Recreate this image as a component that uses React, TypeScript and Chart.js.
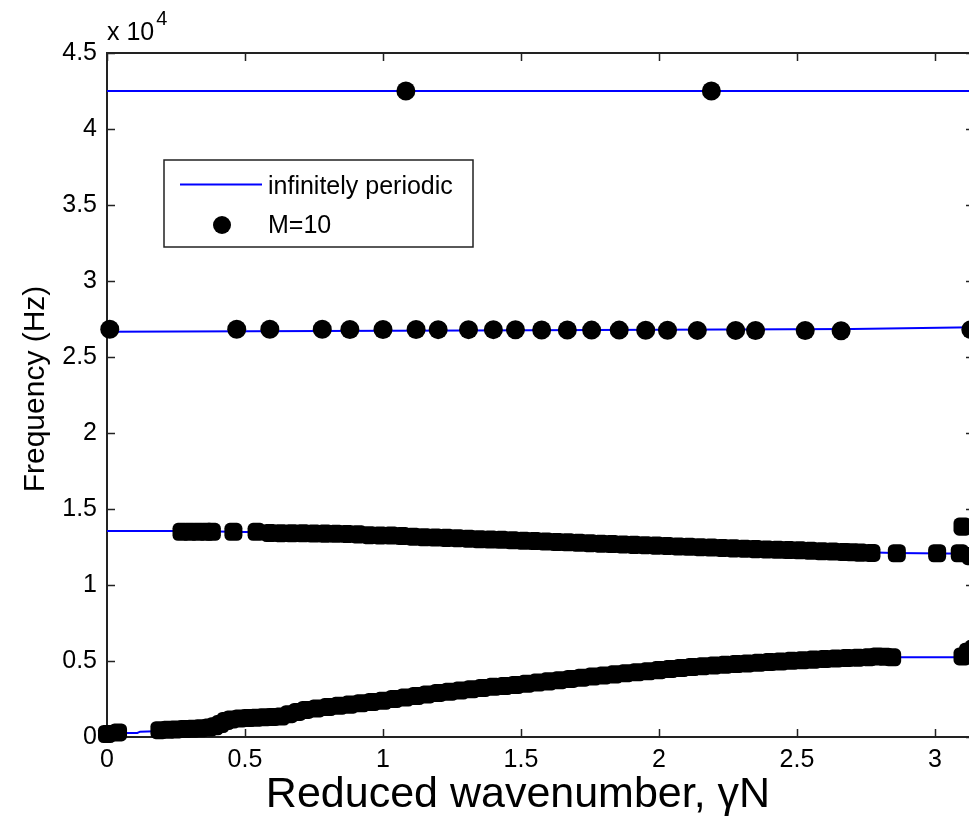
import React, { useEffect, useRef } from "react";
import { Chart, registerables } from "chart.js";

Chart.register(...registerables);

// ---------- axis ticks ----------
const xTicks = [0, 0.5, 1, 1.5, 2, 2.5, 3];
const yTicks = [0, 0.5, 1, 1.5, 2, 2.5, 3, 3.5, 4, 4.5];
const xMin = 0;
const xMax = 3.1416;
const yMin = 0;
const yMax = 4.5;

const xTitle = "Reduced wavenumber, \u03B3N";
const yTitle = "Frequency (Hz)";
const yExponentBase = "x 10";
const yExponent = "4";
const periodicLabel = "infinitely periodic";
const finiteLabel = "M=10";

// ---------- infinitely periodic branches (frequency in 10^4 Hz) ----------
const periodicBand1X = [0, 3.1416];
const periodicBand1Y = [4.25, 4.25];
const periodicBand2X = [0, 1.3, 2.7, 3.1416];
const periodicBand2Y = [2.666, 2.675, 2.685, 2.695];
const periodicBand3X = [0, 0.3, 0.6, 1.0, 1.5, 2.0, 2.5, 2.85, 3.1416];
const periodicBand3Y = [1.355, 1.355, 1.345, 1.325, 1.297, 1.262, 1.228, 1.21, 1.205];
const periodicBand4X = [0, 0.04, 0.11, 0.12, 0.2, 0.3, 0.4, 0.45, 0.6, 1.0, 1.5, 2.0, 2.5, 2.85, 3.1416];
const periodicBand4Y = [0, 0.026, 0.027, 0.035, 0.04, 0.05, 0.07, 0.11, 0.13, 0.238, 0.345, 0.44, 0.503, 0.524, 0.524];

// ---------- finite structure M=10 (frequency in 10^4 Hz) ----------
const finiteBand1X = [1.083, 2.19];
const finiteBand1Y = [4.25, 4.25];

const finiteBand2X = [0.01, 0.47, 0.59, 0.78, 0.88, 1.0, 1.12, 1.2, 1.31, 1.4, 1.48, 1.575, 1.668, 1.756, 1.856, 1.952, 2.031, 2.139, 2.278, 2.35, 2.53, 2.66, 3.13];
const finiteBand2Y = [2.682, 2.682, 2.682, 2.682, 2.681, 2.681, 2.681, 2.68, 2.68, 2.68, 2.679, 2.678, 2.678, 2.677, 2.677, 2.676, 2.676, 2.675, 2.675, 2.674, 2.674, 2.673, 2.68];

const finiteBand3X = [
  0.27, 0.3, 0.33, 0.36, 0.38, 0.458, 0.542,
  0.59, 0.63, 0.67, 0.71, 0.75, 0.79, 0.83, 0.87, 0.91, 0.95, 0.99, 1.03, 1.07, 1.11, 1.15, 1.19,
  1.23, 1.27, 1.31, 1.35, 1.39, 1.43, 1.47, 1.51, 1.55, 1.59, 1.63, 1.67, 1.71, 1.75, 1.79, 1.83,
  1.87, 1.91, 1.95, 1.99, 2.03, 2.07, 2.11, 2.15, 2.19, 2.23, 2.27, 2.31, 2.35, 2.39, 2.43, 2.47,
  2.51, 2.55, 2.59, 2.63, 2.67, 2.7, 2.73, 2.77,
  2.862, 3.008, 3.09, 3.1, 3.13,
];
const finiteBand3Y = [
  1.35, 1.35, 1.35, 1.35, 1.35, 1.35, 1.35,
  1.342, 1.341, 1.34, 1.34, 1.339, 1.338, 1.337, 1.336, 1.333, 1.328, 1.326, 1.325, 1.322, 1.318, 1.314, 1.312,
  1.31, 1.308, 1.305, 1.301, 1.299, 1.297, 1.294, 1.291, 1.289, 1.286, 1.283, 1.281, 1.278, 1.275, 1.272, 1.27,
  1.267, 1.264, 1.262, 1.259, 1.257, 1.254, 1.251, 1.249, 1.246, 1.244, 1.241, 1.239, 1.236, 1.234, 1.232, 1.23,
  1.228, 1.225, 1.222, 1.22, 1.217, 1.215, 1.213, 1.211,
  1.209, 1.209, 1.209, 1.384, 1.19,
];

const finiteBand4X = [
  0.0, 0.04, 0.19, 0.22, 0.25, 0.28, 0.31, 0.34, 0.37, 0.39, 0.41, 0.43, 0.45,
  0.48, 0.51, 0.54, 0.57, 0.6, 0.63, 0.66, 0.69, 0.72, 0.76, 0.8, 0.84, 0.88, 0.92, 0.96, 1.0,
  1.04, 1.08, 1.12, 1.16, 1.2, 1.24, 1.28, 1.32, 1.36, 1.4, 1.44, 1.48, 1.52, 1.56, 1.6, 1.64,
  1.68, 1.72, 1.76, 1.8, 1.84, 1.88, 1.92, 1.96, 2.0, 2.04, 2.08, 2.12, 2.16, 2.2, 2.24, 2.28,
  2.32, 2.36, 2.4, 2.44, 2.48, 2.52, 2.56, 2.6, 2.64, 2.68, 2.72, 2.76, 2.79, 2.82, 2.845,
  3.1, 3.12, 3.14,
];
const finiteBand4Y = [
  0.02, 0.03, 0.045, 0.047, 0.05, 0.052, 0.055, 0.058, 0.063, 0.07, 0.085, 0.105, 0.115,
  0.122, 0.125, 0.127, 0.13, 0.132, 0.135, 0.15, 0.165, 0.178, 0.188, 0.197, 0.205, 0.213, 0.222, 0.23, 0.238,
  0.25, 0.26, 0.27, 0.28, 0.29, 0.298, 0.306, 0.314, 0.322, 0.33, 0.335, 0.342, 0.35, 0.358, 0.366, 0.374,
  0.382, 0.39, 0.398, 0.405, 0.412, 0.42, 0.426, 0.432, 0.44, 0.447, 0.454, 0.46, 0.466, 0.471, 0.476, 0.48,
  0.484, 0.488, 0.493, 0.497, 0.501, 0.505, 0.509, 0.513, 0.516, 0.519, 0.522, 0.525, 0.53, 0.528, 0.524,
  0.53, 0.56, 0.58,
];

// ---------- layout / style ----------
const W = 1000;
const H = 825;
const AREA = { left: 107, right: 974, top: 53, bottom: 737 };
const FONT = "'Liberation Sans', Arial, Helvetica, sans-serif";
const BLUE = "#0000ff";
const DOT_R = 9.5;
const CHAIN_R = 10.5;

const pts = (xs: number[], ys: number[]) => xs.map((x, i) => ({ x, y: ys[i] }));

const frameAndTicks = {
  id: "frameAndTicks",
  beforeDatasetsDraw(chart: any) {
    const { ctx, chartArea: a, scales } = chart;
    const tl = 8;
    ctx.save();
    ctx.strokeStyle = "#222";
    ctx.lineWidth = 1.5;
    ctx.beginPath();
    xTicks.forEach((v) => {
      const px = Math.round(scales.x.getPixelForValue(v)) + 0.5;
      ctx.moveTo(px, a.bottom);
      ctx.lineTo(px, a.bottom - tl);
      ctx.moveTo(px, a.top);
      ctx.lineTo(px, a.top + tl);
    });
    yTicks.forEach((v) => {
      const py = Math.round(scales.y.getPixelForValue(v)) + 0.5;
      ctx.moveTo(a.left, py);
      ctx.lineTo(a.left + tl, py);
      ctx.moveTo(a.right, py);
      ctx.lineTo(a.right - tl, py);
    });
    ctx.stroke();
    ctx.lineWidth = 2;
    ctx.strokeRect(a.left, a.top, a.right - a.left, a.bottom - a.top);
    ctx.restore();
  },
  afterDraw(chart: any) {
    const { ctx, chartArea: a } = chart;
    ctx.save();
    ctx.fillStyle = "#000";
    ctx.textBaseline = "alphabetic";
    ctx.textAlign = "left";

    // exponent label
    ctx.font = `25px ${FONT}`;
    ctx.fillText(yExponentBase, a.left, 40);
    const wBase = ctx.measureText(yExponentBase).width;
    ctx.font = `20px ${FONT}`;
    ctx.fillText(yExponent, a.left + wBase + 2, 25);

    // axis titles
    ctx.font = `43px ${FONT}`;
    ctx.textAlign = "center";
    ctx.fillText(xTitle, 518, 807);
    ctx.save();
    ctx.translate(44, 389);
    ctx.rotate(-Math.PI / 2);
    ctx.font = `30px ${FONT}`;
    ctx.fillText(yTitle, 0, 0);
    ctx.restore();
    ctx.textAlign = "left";

    // legend
    const box = { l: 164, t: 160, r: 473, b: 247 };
    ctx.fillStyle = "#fff";
    ctx.fillRect(box.l, box.t, box.r - box.l, box.b - box.t);
    ctx.strokeStyle = "#222";
    ctx.lineWidth = 1.5;
    ctx.strokeRect(box.l, box.t, box.r - box.l, box.b - box.t);
    const ds = chart.data.datasets;
    ctx.strokeStyle = BLUE;
    ctx.lineWidth = 2;
    ctx.beginPath();
    ctx.moveTo(180, 184.5);
    ctx.lineTo(262, 184.5);
    ctx.stroke();
    ctx.fillStyle = "#000";
    ctx.font = `25px ${FONT}`;
    ctx.fillText(ds[2].label, 268, 194);
    ctx.beginPath();
    ctx.arc(222, 225, 9, 0, Math.PI * 2);
    ctx.fill();
    ctx.fillText(ds[0].label, 268, 233);
    ctx.restore();
  },
};

export default function App() {
  const ref = useRef<HTMLCanvasElement>(null);
  useEffect(() => {
    if (!ref.current) return;
    const lineDs = (xs: number[], ys: number[], label: string) => ({
      label,
      data: pts(xs, ys),
      showLine: true,
      borderColor: BLUE,
      backgroundColor: BLUE,
      borderWidth: 2,
      pointRadius: 0,
      tension: 0,
      clip: false as any,
      order: 2,
    });
    const markerDs = (data: any[], style: string, r: number) => ({
      label: finiteLabel,
      data,
      showLine: false,
      pointStyle: style,
      pointRadius: r,
      pointHoverRadius: r,
      pointBackgroundColor: "#000",
      pointBorderColor: "#000",
      pointBorderWidth: 0,
      clip: false as any,
      order: 0,
    });
    const chart = new Chart(ref.current, {
      type: "scatter",
      data: {
        datasets: [
          markerDs([...pts(finiteBand1X, finiteBand1Y), ...pts(finiteBand2X, finiteBand2Y)], "circle", DOT_R),
          markerDs([...pts(finiteBand3X, finiteBand3Y), ...pts(finiteBand4X, finiteBand4Y)], "rectRounded", CHAIN_R),
          lineDs(periodicBand1X, periodicBand1Y, periodicLabel),
          lineDs(periodicBand2X, periodicBand2Y, periodicLabel),
          lineDs(periodicBand3X, periodicBand3Y, periodicLabel),
          lineDs(periodicBand4X, periodicBand4Y, periodicLabel),
        ] as any,
      },
      options: {
        animation: false,
        responsive: false,
        devicePixelRatio: 1,
        events: [],
        layout: { padding: { left: 0, right: W - AREA.right, top: AREA.top, bottom: 0 } },
        plugins: {
          legend: { display: false },
          tooltip: { enabled: false },
          title: { display: false },
        },
        scales: {
          x: {
            type: "linear",
            min: xMin,
            max: xMax,
            grid: { display: false, drawTicks: false },
            border: { display: false },
            ticks: {
              font: { family: FONT, size: 25 },
              color: "#000",
              padding: 8,
              maxRotation: 0,
              autoSkip: false,
              includeBounds: false,
              callback: (v: any) => String(v),
            },
            afterBuildTicks: (s: any) => {
              s.ticks = xTicks.map((v) => ({ value: v }));
            },
            afterFit: (s: any) => {
              s.height = H - AREA.bottom;
            },
            title: { display: false },
          },
          y: {
            type: "linear",
            min: yMin,
            max: yMax,
            grid: { display: false, drawTicks: false },
            border: { display: false },
            ticks: {
              font: { family: FONT, size: 25 },
              color: "#000",
              padding: 10,
              autoSkip: false,
              includeBounds: false,
              callback: (v: any) => String(v),
            },
            afterBuildTicks: (s: any) => {
              s.ticks = yTicks.map((v) => ({ value: v }));
            },
            afterFit: (s: any) => {
              s.width = AREA.left;
            },
            title: { display: false },
          },
        },
      } as any,
      plugins: [frameAndTicks],
    });
    return () => chart.destroy();
  }, []);

  return (
    <div
      style={{
        position: "absolute",
        left: 0,
        top: 0,
        width: 969,
        height: 825,
        overflow: "hidden",
        background: "#fff",
      }}
    >
      <canvas ref={ref} width={W} height={H} style={{ display: "block", width: W, height: H }} />
    </div>
  );
}
